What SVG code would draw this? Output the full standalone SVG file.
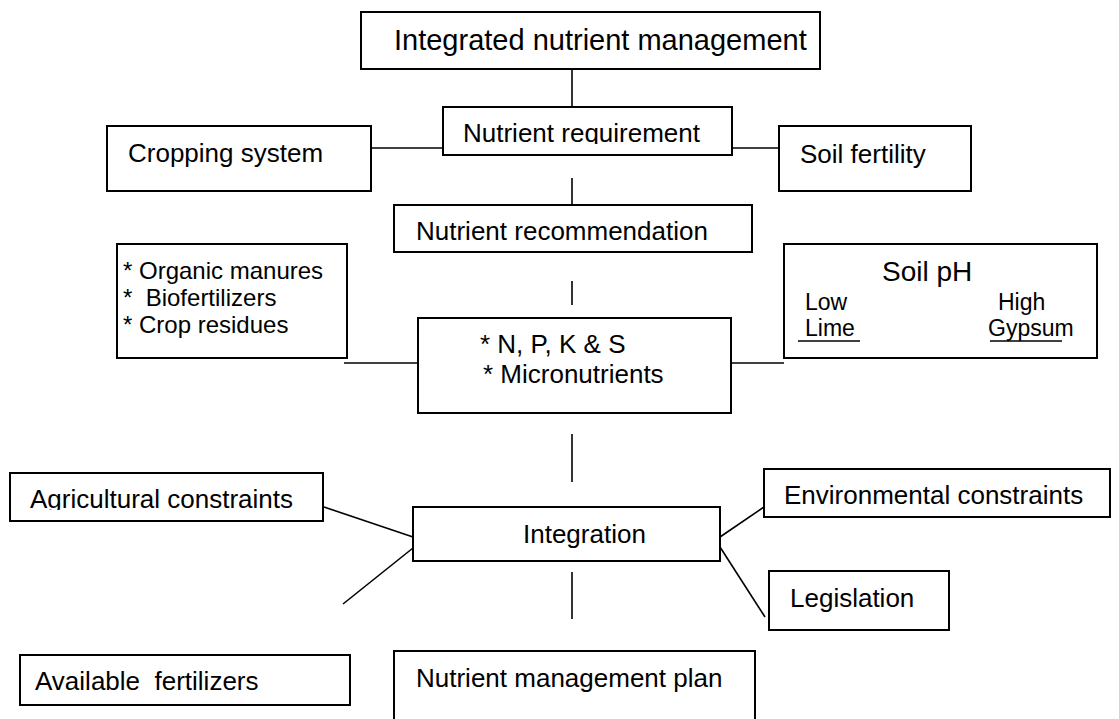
<svg xmlns="http://www.w3.org/2000/svg" width="1119" height="719" viewBox="0 0 1119 719">
<style>
  .box { fill: #ffffff; stroke: #000000; stroke-width: 2; }
  .ln { stroke: #000000; stroke-width: 1.6; fill: none; }
  text { font-family: "Liberation Sans", Arial, sans-serif; fill: #000000; font-size: 26px; }
  .sm { font-size: 24px; }
  .ph { font-size: 23px; }
</style>
<defs>
  <clipPath id="clipNR"><rect x="443" y="107" width="289" height="37"/></clipPath>
  <clipPath id="clipAC"><rect x="10" y="473" width="313" height="37"/></clipPath>
</defs>
<rect width="1119" height="719" fill="#ffffff"/>
<g id="connectors">
  <line class="ln" x1="572" y1="69" x2="572" y2="118"/>
  <line class="ln" x1="371" y1="148" x2="443" y2="148"/>
  <line class="ln" x1="732" y1="148" x2="779" y2="148"/>
  <line class="ln" x1="572" y1="178" x2="572" y2="205"/>
  <line class="ln" x1="572" y1="281" x2="572" y2="305"/>
  <line class="ln" x1="344" y1="363" x2="418" y2="363"/>
  <line class="ln" x1="731" y1="363" x2="784" y2="363"/>
  <line class="ln" x1="572" y1="434" x2="572" y2="482"/>
  <line class="ln" x1="324" y1="507" x2="413" y2="537"/>
  <line class="ln" x1="413" y1="548" x2="343" y2="604"/>
  <line class="ln" x1="720" y1="537" x2="764" y2="507"/>
  <line class="ln" x1="720" y1="547" x2="765" y2="617"/>
  <line class="ln" x1="572" y1="572" x2="572" y2="619"/>
</g>
<g id="n-integrated">
  <rect class="box" x="361" y="12" width="459" height="57"/>
  <text x="394" y="50" style="font-size:29px">Integrated nutrient management</text>
</g>
<g id="n-requirement">
  <rect class="box" x="443" y="107" width="289" height="48"/>
  <text x="463" y="142" clip-path="url(#clipNR)">Nutrient requirement</text>
</g>
<g id="n-cropping">
  <rect class="box" x="107" y="126" width="264" height="65"/>
  <text x="128" y="162">Cropping system</text>
</g>
<g id="n-fertility">
  <rect class="box" x="779" y="126" width="192" height="65"/>
  <text x="800" y="163">Soil fertility</text>
</g>
<g id="n-recommendation">
  <rect class="box" x="394" y="205" width="358" height="47"/>
  <text x="416" y="240">Nutrient recommendation</text>
</g>
<g id="n-organic">
  <rect class="box" x="117" y="244" width="230" height="114"/>
  <text class="sm" x="123" y="279">* Organic manures</text>
  <text class="sm" x="123" y="306" xml:space="preserve">*  Biofertilizers</text>
  <text class="sm" x="123" y="333">* Crop residues</text>
</g>
<g id="n-npks">
  <rect class="box" x="418" y="318" width="313" height="95"/>
  <text x="480" y="353">* N, P, K &amp; S</text>
  <text x="483" y="383">* Micronutrients</text>
</g>
<g id="n-soilph">
  <rect class="box" x="784" y="244" width="313" height="114"/>
  <text x="882" y="281" style="font-size:28px">Soil pH</text>
  <text class="ph" x="805" y="310">Low</text>
  <text class="ph" x="998" y="310">High</text>
  <text class="ph" x="805" y="336">Lime</text>
  <text class="ph" x="988" y="336">Gypsum</text>
  <line class="ln" x1="798" y1="341" x2="860" y2="341"/>
  <line class="ln" x1="990" y1="341" x2="1062" y2="341"/>
</g>
<g id="n-agricultural">
  <rect class="box" x="10" y="473" width="313" height="48"/>
  <text x="30" y="508" clip-path="url(#clipAC)">Agricultural constraints</text>
</g>
<g id="n-integration">
  <rect class="box" x="413" y="507" width="307" height="54"/>
  <text x="523" y="543">Integration</text>
</g>
<g id="n-environmental">
  <rect class="box" x="764" y="469" width="346" height="48"/>
  <text x="784" y="504">Environmental constraints</text>
</g>
<g id="n-available">
  <rect class="box" x="20" y="655" width="330" height="50"/>
  <text x="35" y="690" xml:space="preserve">Available  fertilizers</text>
</g>
<g id="n-legislation">
  <rect class="box" x="769" y="571" width="180" height="59"/>
  <text x="790" y="607">Legislation</text>
</g>
<g id="n-plan">
  <rect class="box" x="394" y="651" width="361" height="80"/>
  <text x="416" y="687">Nutrient management plan</text>
</g>
</svg>
